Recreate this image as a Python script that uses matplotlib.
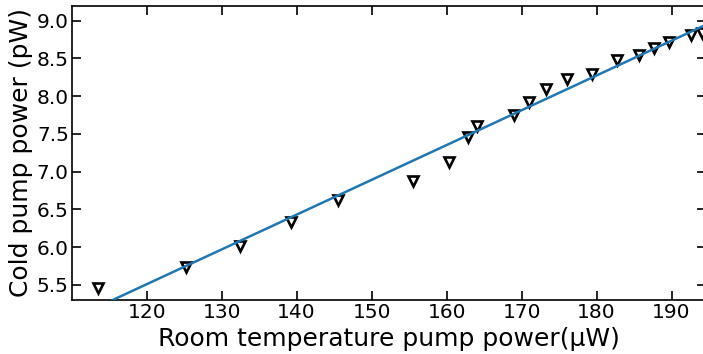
import numpy as np
import matplotlib.pyplot as plt

# Measured points (room temp pump power in uW, cold pump power in pW)
room_power = [113.5, 125.2, 132.4, 139.3, 145.5, 155.55, 160.3, 162.8, 164.0, 169.0,
              171.0, 173.3, 176.1, 179.4, 182.7, 185.6, 187.7, 189.6, 192.6, 194.0]
cold_power = [5.46, 5.74, 6.01, 6.34, 6.62, 6.88, 7.13, 7.46, 7.61, 7.75,
              7.93, 8.10, 8.23, 8.29, 8.48, 8.55, 8.64, 8.72, 8.81, 8.84]

# Linear fit
fit_slope = 0.0461
fit_intercept = -0.023

fig = plt.figure(figsize=(7.03, 3.54), dpi=100)
ax = fig.add_axes([0.1028, 0.1525, 0.9015, 0.8315])

ax.plot(room_power, cold_power, linestyle='none', marker='v', markersize=6.5,
        fillstyle='none', markeredgecolor='black', markeredgewidth=1.9, zorder=2)

x_fit = np.array([105, 200])
ax.plot(x_fit, fit_slope * x_fit + fit_intercept, color='#1f77b4', linewidth=1.8, zorder=3)

ax.set_xlim(110.08, 194.6)
ax.set_ylim(5.30, 9.20)
ax.set_xticks([120, 130, 140, 150, 160, 170, 180, 190])
ax.set_yticks([5.5, 6.0, 6.5, 7.0, 7.5, 8.0, 8.5, 9.0])

ax.tick_params(direction='in', length=6.5, width=1.2, labelsize=14.5,
               top=True, right=True, pad=2.5)
for s in ax.spines.values():
    s.set_linewidth(1.2)

ax.set_xlabel('Room temperature pump power(\u03bcW)', fontsize=18, labelpad=3)
ax.set_ylabel('Cold pump power (pW)', fontsize=18, labelpad=3)

fig.savefig('out.png', dpi=100)
